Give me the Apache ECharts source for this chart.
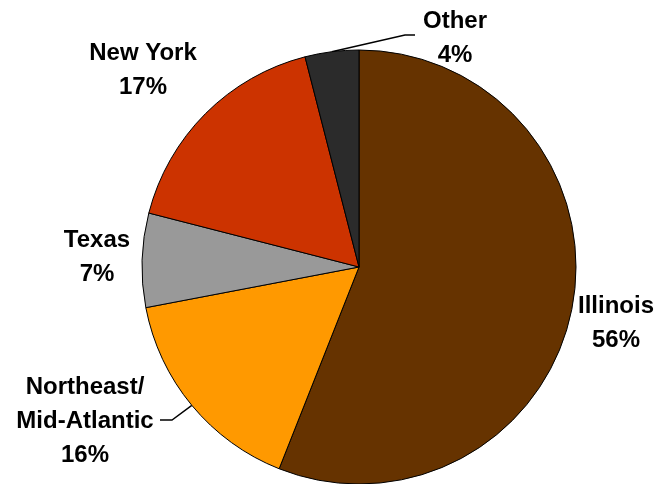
<!DOCTYPE html>
<html>
<head>
<meta charset="utf-8">
<script src="https://cdn.jsdelivr.net/npm/echarts@6/dist/echarts.min.js"></script>
<style>
  html, body { margin: 0; padding: 0; background: #fff; }
  #chart { width: 660px; height: 484px; }
</style>
</head>
<body>
<div id="chart"></div>
<script>
// Share by region, clockwise from 12 o'clock
const regions = ['Illinois', 'Northeast/\nMid-Atlantic', 'Texas', 'New York', 'Other'];
const shares = [56, 16, 7, 17, 4];
const sliceColors = ['#663300', '#FF9900', '#999999', '#CC3300', '#2B2B2B'];

// Where each two/three-line label is centred, and which ones get a leader line
const labelCenters = [[616, 323], [85, 421], [97, 257], [143, 70], [455, 38]];
const hasLeader = [false, true, false, false, true];

const chart = echarts.init(document.getElementById('chart'), null, { renderer: 'canvas' });

const leaderStyle = { color: '#000000', width: 1.4, opacity: 1 };

const pieData = regions.map((name, i) => ({
  name: name,
  value: shares[i],
  itemStyle: { color: sliceColors[i] },
  labelLine: { show: hasLeader[i], lineStyle: leaderStyle }
}));

chart.setOption({
  animation: false,
  backgroundColor: '#ffffff',
  series: [{
    type: 'pie',
    center: [359, 267],
    radius: 217,
    startAngle: 90,
    clockwise: true,
    avoidLabelOverlap: false,
    minShowLabelAngle: 0,
    data: pieData,
    itemStyle: { borderColor: '#000000', borderWidth: 1 },
    emphasis: { disabled: true },
    label: {
      show: true,
      position: 'outside',
      formatter: p => p.name + '\n' + Math.round(p.percent) + '%',
      fontFamily: 'Arial, "Liberation Sans", sans-serif',
      fontWeight: 'bold',
      fontSize: 24,
      lineHeight: 34,
      color: '#000000',
      align: 'center'
    },
    labelLine: {
      show: true,
      length: 20,
      length2: 12,
      smooth: false,
      lineStyle: leaderStyle
    },
    labelLayout: function (params) {
      const i = params.dataIndex;
      const c = labelCenters[i];
      const out = { x: c[0], y: c[1], align: 'center', verticalAlign: 'middle' };
      if (hasLeader[i] && params.labelLinePoints) {
        const start = params.labelLinePoints[0];
        if (i === 4) {
          out.labelLinePoints = [start, [c[0] - 50, c[1] - 3], [c[0] - 40, c[1] - 3]];
        } else {
          out.labelLinePoints = [start, [c[0] + 87, c[1] - 1], [c[0] + 75, c[1] - 1]];
        }
      }
      return out;
    }
  }]
});
</script>
</body>
</html>
